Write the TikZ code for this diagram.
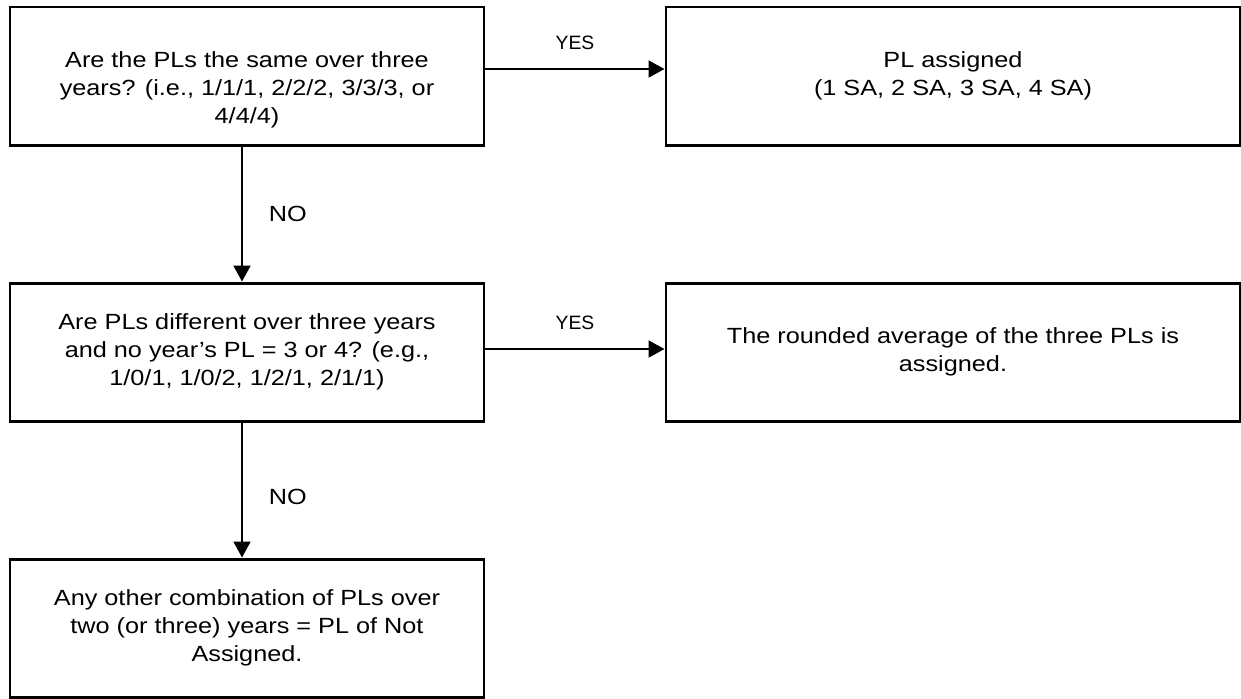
\documentclass[tikz,border=0pt]{standalone}
\usepackage{fontspec}
\newfontfamily\boxfont{Liberation Sans}[FakeStretch=1.15]
\newfontfamily\labelfont{Liberation Sans}
\usetikzlibrary{arrows.meta}
\tikzstyle{question}=[rectangle,draw=black,line width=1.7pt,
  			  minimum width=9.48cm,minimum height=2.76cm,align=center,inner sep=0pt]
\tikzstyle{answer}=[question,minimum width=11.48cm]
\tikzstyle{line}=[color=black,line width=1.1pt]
\tikzstyle{small}=[font=\labelfont\fontsize{11}{13}\selectfont]

\begin{document}
\begin{tikzpicture}[-{Triangle[length=0.32cm,width=0.34cm]},auto,node distance=5.52cm,
                    font=\boxfont\fontsize{12.5}{16}\selectfont]
	\useasboundingbox (-4.94,1.52) rectangle (19.88,-12.44);

	\node[question] (n0) {\rule{0pt}{0.86cm}Are the PLs the same over three\\years? (i.e., 1/1/1, 2/2/2, 3/3/3, or\\4/4/4)};
	\node[question] (n1) [below of=n0] {Are PLs different over three years\\and no year’s PL = 3 or 4? (e.g.,\\1/0/1, 1/0/2, 1/2/1, 2/1/1)};
	\node[question] (n2) [below of=n1] {Any other combination of PLs over\\two (or three) years = PL of Not\\Assigned.};
	\node[answer] (n3) [right of=n0,node distance=14.12cm] {PL assigned\\(1 SA, 2 SA, 3 SA, 4 SA)};
	\node[answer] (n4) [right of=n1,node distance=14.12cm] {The rounded average of the three PLs is\\assigned.};

	\path [line]
		([xshift=-0.1cm]n0.south) edge node [right,xshift=0.4cm] {NO} ([xshift=-0.1cm]n1.north)
		([xshift=-0.1cm]n1.south) edge node [right,xshift=0.4cm,pos=0.55] {NO} ([xshift=-0.1cm]n2.north)
		([yshift=0.14cm]n0.east) edge node [above,small,yshift=0.25cm] {YES} ([yshift=0.14cm]n3.west)
		([yshift=0.06cm]n1.east) edge node [above,small,yshift=0.25cm] {YES} ([yshift=0.06cm]n4.west);
\end{tikzpicture}
\end{document}
